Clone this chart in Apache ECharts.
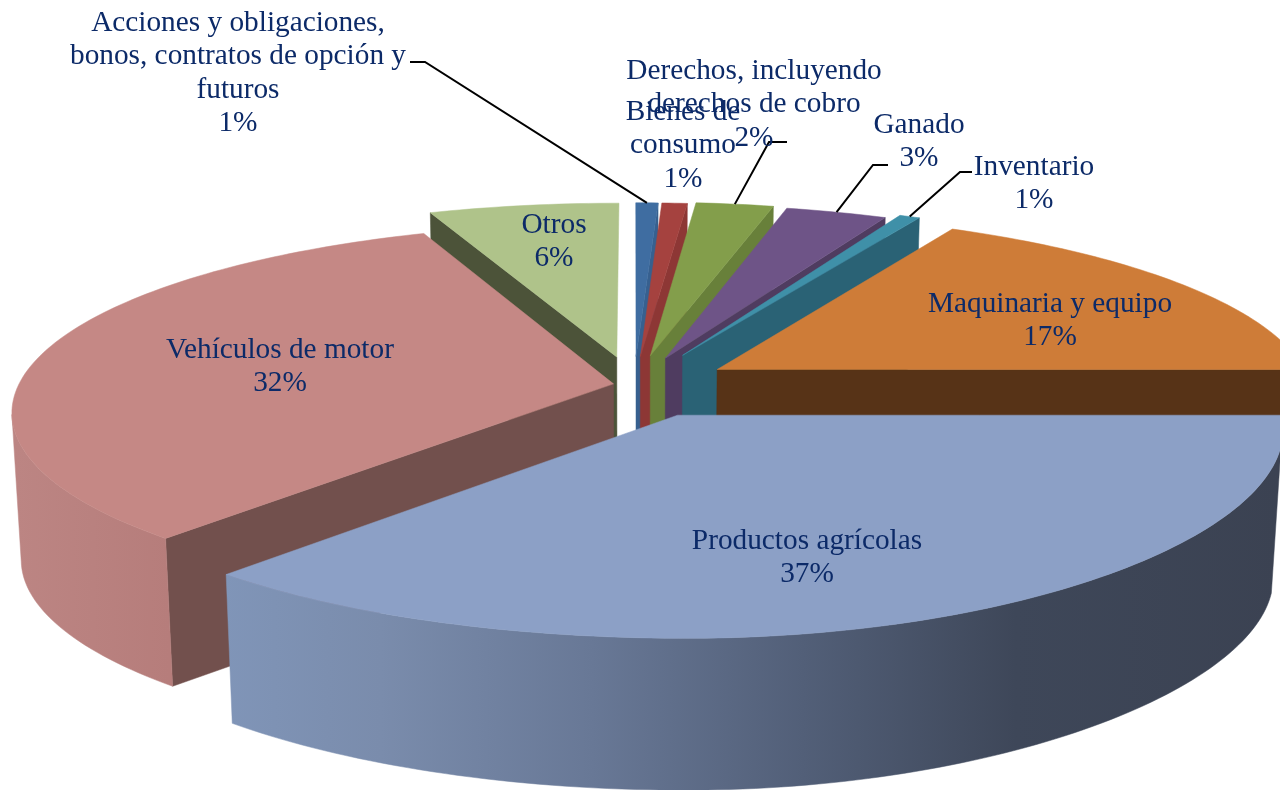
<!DOCTYPE html>
<html><head><meta charset="utf-8">
<style>html,body{margin:0;padding:0;background:#fff}#c{width:1280px;height:790px}</style>
<script src="https://cdn.jsdelivr.net/npm/echarts@6/dist/echarts.min.js"></script>
</head><body><div id="c"></div>
<script>
// Data (percent of total, clockwise from 12 o'clock)
const categories = ['Acciones y obligaciones,\nbonos, contratos de opción y\nfuturos','Bienes de\nconsumo','Derechos, incluyendo\nderechos de cobro','Ganado','Inventario','Maquinaria y equipo','Productos agrícolas','Vehículos de motor','Otros'];
const values = [0.7,0.8,2.45,3.2,0.65,17.2,36.6,32.4,6.0];

// Appearance
const topColors  = ['#3F6DA1','#A5423F','#839E4B','#6E5487','#3F90A8','#CE7C38','#8CA0C6','#C58885','#AFC38A'];
const faceColors = ['#37608F','#8D3735','#68803A','#4F3C60','#2A6275','#573317','#3B4252','#72504D','#4C5339'];
const wallColors = ['#37608F','#8D3735','#68803A','#4F3C60','#2A6275','#8A5226',null,null,'#7F8F62'];
const explode    = [.158,.158,.165,.158,.185,.165,.175,.035,.158];
const faceDepth  = [1,1,1,1,1,.42,1,1,1];
const paintOrder = [2,3,4,5,6,7,9,8,1];
const labelPos   = [[238,21],[683,110],[754,69],[919,123],[1034,165],[1050,302],[807,539],[280,348],[554,223]];
const leaders    = [[[410,62],[425,62]],null,[[787,142],[769,142]],[[888,165],[873,165]],[[972,172],[960,172]],null,null,null,null];

// 3D projection of the pie
const CX=634, CY=385, R=595, T=184.5, K=.149, DEPTH=147, CONV=.985;
function proj(u,v,depth){
  const s=1/(1-K*v);
  let x=CX+R*u*s, y=CY+T*v*s;
  if(depth){ x=CX+(x-CX)*(1-(1-CONV)*depth); y+=depth*(DEPTH+(v>0?2.9*v*v*v*v:0)); }
  return [x,y];
}
const total=values.reduce((a,b)=>a+b,0);
const TAU=Math.PI*2;
const wallGradients={
  6:{type:'linear',global:true,x:222,y:0,x2:1280,y2:0,colorStops:[
    {offset:0,color:'#8095B8'},{offset:.15,color:'#7A8CAC'},{offset:.35,color:'#687896'},{offset:.55,color:'#525F78'},{offset:.75,color:'#3E4759'},{offset:1,color:'#3B4252'}]},
  7:{type:'linear',global:true,x:15,y:0,x2:170,y2:0,colorStops:[
    {offset:0,color:'#BC8583'},{offset:1,color:'#B67D7B'}]}
};
// The largest slice's rim is slightly flatter and narrower on its right side
function rim(i,a){
  let u=Math.sin(a), v=-Math.cos(a);
  if(i===6){ if(u>0) u*=(.99-.08*Math.max(v,0)); v*=.98; }
  return [u,v];
}

function renderItem(params,api){
  const i=params.dataIndex, val=api.value(0);
  let before=0; for(let j=0;j<i;j++) before+=values[j];
  const a0=before/total*TAU, a1=(before+val)/total*TAU, am=(a0+a1)/2;
  const e=explode[i], ox=e*Math.sin(am), oy=-e*Math.cos(am);
  const pt=(a,d)=>{const r=rim(i,a);return proj(ox+r[0],oy+r[1],d);};
  const apex=d=>proj(ox,oy,d);
  const N=Math.max(4,Math.ceil((a1-a0)/0.02));
  const arc=[]; for(let n=0;n<=N;n++) arc.push(a0+(a1-a0)*n/N);
  const z=paintOrder[i]*10, kids=[];
  const poly=(pts,fill,zz)=>kids.push({type:'polygon',z2:zz,shape:{points:pts},style:{fill,stroke:fill,lineWidth:.5}});
  const fd=faceDepth[i];
  // radial faces turned toward the viewer
  if(Math.sin(a0)<0) poly([apex(0),pt(a0,0),pt(a0,fd),apex(fd)],faceColors[i],z);
  if(Math.sin(a1)>0) poly([apex(0),pt(a1,0),pt(a1,fd),apex(fd)],faceColors[i],z);
  // outer wall, only where it faces the viewer
  const vis=arc.filter(a=>-Math.cos(a)>K-.001);
  if(vis.length>1){
    const up=vis.map(a=>pt(a,0)), dn=vis.map(a=>pt(a,1)).reverse();
    poly(up.concat(dn),wallGradients[i]||wallColors[i],z+1);
  }
  // top face
  poly([apex(0)].concat(arc.map(a=>pt(a,0))),topColors[i],z+2);
  // leader
  if(leaders[i]){
    const t=pt(am,0);
    kids.push({type:'polyline',z2:200,shape:{points:leaders[i].concat([t])},style:{fill:null,stroke:'#000',lineWidth:2}});
  }
  // label
  const lines=categories[i].split('\n').concat([Math.round(val)+'%']);
  lines.forEach((l,n)=>kids.push({type:'text',z2:300+i,style:{text:l,x:labelPos[i][0],y:labelPos[i][1]+2+n*33.6,align:'center',verticalAlign:'middle',fill:'#0C2A68',font:'29.3px "Liberation Serif"'}}));
  return {type:'group',children:kids};
}

const chart=echarts.init(document.getElementById('c'),null,{renderer:'canvas'});
chart.setOption({
  animation:false,
  backgroundColor:'#fff',
  series:[{type:'custom',coordinateSystem:'none',renderItem,silent:true,clip:false,
    data:values.map((v,i)=>({name:categories[i],value:[v]}))}]
});
</script></body></html>
